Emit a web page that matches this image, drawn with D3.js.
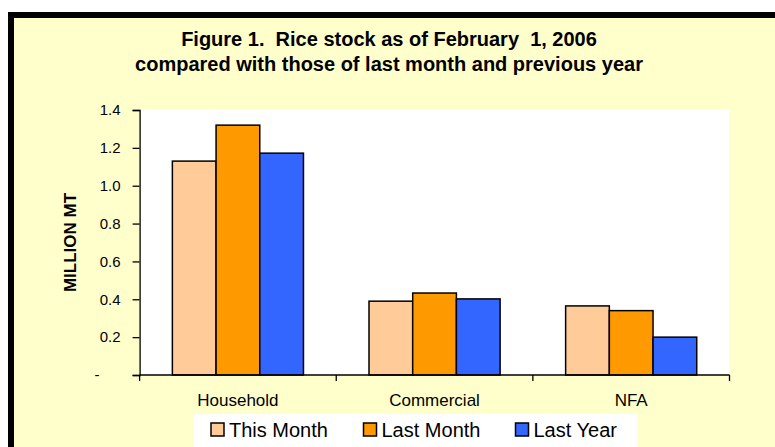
<!DOCTYPE html>
<html>
<head>
<meta charset="utf-8">
<script src="https://cdn.jsdelivr.net/npm/d3@7"></script>
<style>
  body { margin: 0; background: #fff; }
  svg { display: block; font-family: "Liberation Sans", Arial, sans-serif; }
  text { white-space: pre; }
</style>
</head>
<body>
<svg id="chart"></svg>
<script>
// data
var categories = ["Household", "Commercial", "NFA"];
var seriesNames = ["This Month", "Last Month", "Last Year"];
var thisMonth = [1.13, 0.39, 0.365];
var lastMonth = [1.32, 0.433, 0.34];
var lastYear = [1.172, 0.402, 0.20];
var yTicks = [0, 0.2, 0.4, 0.6, 0.8, 1.0, 1.2, 1.4];
var colors = ["#FFCC99", "#FF9900", "#3366FF"];

var width = 775, height = 447;
var svg = d3.select("#chart").attr("width", width).attr("height", height);

// frame
svg.append("rect")
  .attr("x", 11).attr("y", 15)
  .attr("width", 800).attr("height", 470)
  .attr("fill", "#FFFFCC")
  .attr("stroke", "#000")
  .attr("stroke-width", 6);

// title
var title = svg.append("text")
  .attr("text-anchor", "middle")
  .style("font-size", "20px")
  .style("font-weight", "bold");
title.append("tspan").attr("x", 389).attr("y", 46).text("Figure 1.  Rice stock as of February  1, 2006");
title.append("tspan").attr("x", 389).attr("y", 71).text("compared with those of last month and previous year");

var plotL = 139.6, plotR = 729.5, plotT = 110, plotB = 375;

svg.append("rect")
  .attr("x", plotL).attr("y", plotT)
  .attr("width", plotR - plotL).attr("height", plotB - plotT)
  .attr("fill", "#fff");

var x0 = d3.scaleBand().domain(categories).range([plotL, plotR]).padding(0);
var x1 = d3.scaleBand().domain(seriesNames).range([0, x0.bandwidth()])
  .paddingInner(0).paddingOuter(0.75);
var y = d3.scaleLinear().domain([0, 1.4]).range([plotB, plotT]);

var values = [thisMonth, lastMonth, lastYear];
var rows = [];
categories.forEach(function(c, i) {
  seriesNames.forEach(function(s, j) {
    rows.push({cat: c, series: s, value: values[j][i], color: colors[j]});
  });
});

svg.append("g").selectAll("rect")
  .data(rows)
  .enter().append("rect")
  .attr("x", function(d) { return x0(d.cat) + x1(d.series); })
  .attr("y", function(d) { return y(d.value); })
  .attr("width", x1.bandwidth())
  .attr("height", function(d) { return plotB - y(d.value); })
  .attr("fill", function(d) { return d.color; })
  .attr("stroke", "#000")
  .attr("stroke-width", 1.5);

// y axis
var yAxis = d3.axisLeft(y)
  .tickValues(yTicks)
  .tickSize(7)
  .tickPadding(12)
  .tickFormat(function(d) { return d === 0 ? "" : d3.format(".1f")(d); });
var gy = svg.append("g").attr("transform", "translate(" + plotL + ",0)").call(yAxis);
gy.select(".domain").attr("stroke", "#000").attr("stroke-width", 1.3);
gy.selectAll(".tick line").attr("stroke", "#000").attr("stroke-width", 1.3);
gy.selectAll(".tick text").style("font-size", "15px").attr("fill", "#000")
  .style("font-family", "'Liberation Sans', Arial, sans-serif");
svg.append("text")
  .attr("x", 97).attr("y", y(0)).attr("dy", "0.35em")
  .attr("text-anchor", "middle")
  .style("font-size", "15px")
  .text("-");

// x axis
svg.append("line")
  .attr("x1", plotL).attr("x2", plotR)
  .attr("y1", plotB).attr("y2", plotB)
  .attr("stroke", "#000").attr("stroke-width", 1.3);
var bounds = categories.map(function(c) { return x0(c); }).concat([x0(categories[categories.length - 1]) + x0.bandwidth()]);
svg.append("g").selectAll("line")
  .data(bounds)
  .enter().append("line")
  .attr("x1", function(d) { return d; }).attr("x2", function(d) { return d; })
  .attr("y1", plotB).attr("y2", plotB + 6)
  .attr("stroke", "#000").attr("stroke-width", 1.3);
svg.append("g").selectAll("text")
  .data(categories)
  .enter().append("text")
  .attr("x", function(d) { return x0(d) + x0.bandwidth() / 2; })
  .attr("y", 405.5)
  .attr("text-anchor", "middle")
  .style("font-size", "17px")
  .text(function(d) { return d; });

// y axis title
svg.append("text")
  .attr("transform", "translate(76," + ((plotT + plotB) / 2) + ") rotate(-90)")
  .attr("text-anchor", "middle")
  .style("font-size", "17px")
  .style("font-weight", "bold")
  .text("MILLION MT");

// legend
svg.append("rect")
  .attr("x", 194).attr("y", 414)
  .attr("width", 443).attr("height", 40)
  .attr("fill", "#fff");
var legendX = [211, 363.5, 515.5];
var lg = svg.append("g").selectAll("g")
  .data(seriesNames)
  .enter().append("g")
  .attr("transform", function(d, i) { return "translate(" + legendX[i] + ",423)"; });
lg.append("rect")
  .attr("width", 13).attr("height", 13)
  .attr("fill", function(d, i) { return colors[i]; })
  .attr("stroke", "#000").attr("stroke-width", 1.5);
lg.append("text")
  .attr("x", 18).attr("y", 14)
  .style("font-size", "20px")
  .text(function(d) { return d; });
</script>
</body>
</html>
